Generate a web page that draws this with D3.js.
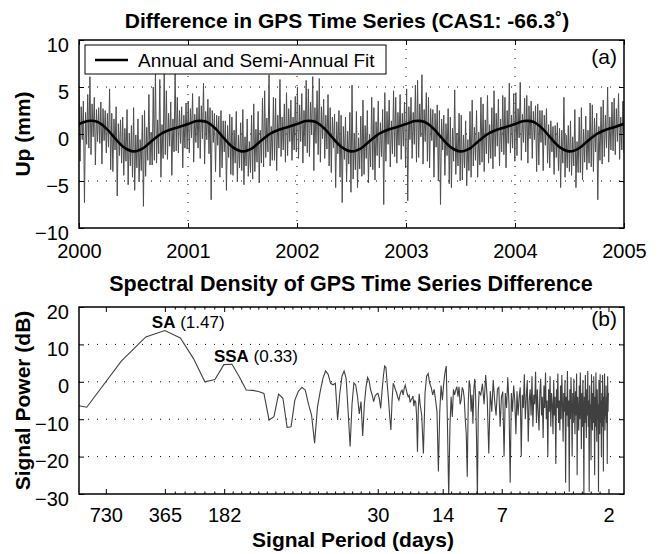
<!DOCTYPE html>
<html><head><meta charset="utf-8">
<script src="https://cdn.jsdelivr.net/npm/d3@7"></script>
<style>
html,body{margin:0;padding:0;background:#fff;}
svg text{font-family:"Liberation Sans",Arial,Helvetica,sans-serif;fill:#000;}
</style></head><body>
<svg id="chart" width="657" height="554"></svg>
<script>
// ---------------- DATA ----------------
const titleA = "Difference in GPS Time Series (CAS1: -66.3\u02DA)";
const titleB = "Spectral Density of GPS Time Series Difference";
const yearTicks = [2000, 2001, 2002, 2003, 2004, 2005];
const upTicks = [-10, -5, 0, 5, 10];
const upStartYear = 2000, upEndYear = 2005;
// residual Up series (mm), evenly spaced over 2000.0 - 2005.0
const upValues = [
 4.8,-2.9,2.9,-0.6,3.5,-7.3,2.3,-1.1,4.2,-1.5, 6.1,-2.2,3.2,-0.3,3.9,-3.3,2.6,-0.8,2.8,-1.0,
 3.4,-3.2,2.7,-0.7,2.5,-2.0,2.2,-1.4,4.8,-3.8, 2.2,-4.0,1.6,-1.7,2.9,-6.6,1.1,-2.3,1.5,-3.1,
 1.8,-4.4,0.6,-2.9,2.6,-5.4,0.1,-3.4,0.9,-4.6, 2.8,-6.0,-0.1,-3.6,1.6,-5.1,-0.6,-3.9,2.0,-7.7,
 2.5,-4.5,0.7,-2.8,4.2,-3.3,0.2,-3.3,5.0,-2.8, 6.6,-3.1,1.5,-2.1,5.8,-4.6,1.0,-2.6,6.4,-2.2,
 4.6,-2.7,2.2,-1.3,3.4,-4.4,1.6,-1.9,6.5,-1.8, 3.9,-2.0,2.5,-1.0,2.9,-3.6,2.0,-1.5,3.3,-1.6,
 3.5,-2.0,2.7,-0.4,4.3,-3.0,2.1,-0.9,2.8,-1.5, 4.0,-2.6,3.0,-0.5,5.4,-3.2,2.4,-0.6,3.7,-2.1,
 2.8,-7.0,2.5,-0.9,2.2,-4.0,2.0,-1.2,1.9,-4.6, 2.5,-3.6,1.4,-1.9,1.4,-6.0,0.9,-2.5,2.1,-4.3,
 1.8,-4.4,0.4,-3.1,2.4,-5.1,-0.1,-3.6,1.2,-3.9, 2.6,-5.4,-0.3,-3.4,1.6,-4.5,-0.8,-4.1,2.0,-4.8,
 3.2,-4.0,0.5,-3.0,2.4,-5.2,0.4,-3.1,3.8,-3.5, 4.6,-2.5,1.7,-1.9,6.3,-3.4,0.8,-2.8,3.9,-2.8,
 3.8,-3.9,2.0,-1.5,5.8,-2.4,1.8,-1.7,3.2,-3.0, 4.4,-2.3,2.7,-0.8,3.6,-2.8,1.8,-1.7,4.0,-1.9,
 5.0,-2.6,3.1,-0.8,4.3,-3.1,2.5,-1.3,5.7,-2.0, 4.8,-2.4,3.4,-0.1,6.1,-3.9,2.8,-1.0,4.6,-2.2,
 5.9,-3.0,2.9,-0.5,3.7,-2.6,2.0,-1.6,4.2,-3.4, 2.8,-4.1,1.8,-1.5,2.1,-5.7,1.3,-2.1,2.5,-4.6,
 2.0,-7.3,0.8,-2.7,1.8,-5.1,0.3,-3.2,2.3,-6.2, 5.2,-4.8,0.1,-3.8,2.4,-5.7,-0.4,-3.7,1.9,-4.5,
 3.6,-4.3,0.9,-2.6,2.5,-5.2,0.0,-3.5,3.9,-3.8, 2.8,-4.9,1.3,-2.3,3.5,-3.6,1.2,-2.4,2.6,-7.5,
 4.4,-2.9,2.4,-1.1,3.6,-3.5,1.4,-2.1,4.6,-2.4, 3.9,-3.1,2.3,-1.2,4.2,-2.7,2.2,-1.3,3.4,-3.6,
 4.8,-7.1,2.9,-0.6,3.9,-2.6,2.3,-1.1,5.2,-3.0, 5.7,-2.5,3.2,-0.3,6.3,-3.2,2.6,-0.8,4.4,-2.9,
 3.9,-3.6,2.7,-0.7,2.6,-4.6,2.2,-1.4,3.1,-5.0, 2.5,-7.5,1.6,-1.7,2.0,-4.4,1.1,-2.3,2.7,-5.3,
 1.8,-5.7,0.6,-2.9,4.7,-4.3,0.1,-3.4,2.2,-5.0, 2.0,-4.9,-0.1,-3.6,1.4,-5.5,-0.6,-3.9,2.4,-4.6,
 3.6,-3.4,0.7,-2.8,2.5,-4.6,0.2,-3.3,3.9,-3.0, 3.2,-4.0,1.5,-2.1,4.1,-3.1,1.0,-2.6,2.8,-3.7,
 4.6,-2.4,2.2,-1.3,3.7,-3.4,1.6,-1.9,4.1,-2.2, 3.9,-3.6,2.5,-1.0,5.4,-2.0,2.0,-1.5,4.3,-2.9,
 4.4,-2.3,2.7,-0.4,5.5,-2.8,2.1,-0.9,3.8,-1.9, 4.1,-3.1,3.0,-0.5,3.5,-2.6,2.4,-0.6,3.0,-4.0,
 3.2,-3.3,2.5,-0.9,2.5,-3.9,2.0,-1.2,2.7,-3.1, 1.0,-3.6,1.4,-1.9,0.8,-4.3,0.9,-2.5,1.2,-3.9,
 0.6,-5.7,0.4,-3.1,3.9,-4.6,-0.1,-3.6,0.9,-4.0, 1.4,-4.4,-0.3,-3.4,2.6,-5.7,-0.8,-4.1,1.8,-4.1,
 2.8,-4.9,0.5,-3.0,1.9,-3.8,0.4,-3.1,3.3,-3.5, 3.1,-4.0,1.7,-1.9,2.2,-7.0,0.8,-2.8,2.9,-3.2,
 3.6,-2.4,2.0,-1.5,5.0,-3.0,1.8,-1.7,3.4,-1.8, 3.8,-2.2,2.7,-0.8,4.3,-2.7,1.8,-1.7,3.5,-2.0
];
// annual + semi-annual fit, monthly from 2000.0 to 2005.0
const fitValues = [
 1.05,1.38,1.30,0.60,-0.50,-1.45,-1.85,-1.55,-0.75,0.00,0.45,0.75,
 1.06,1.38,1.30,0.60,-0.50,-1.45,-1.85,-1.55,-0.75,0.00,0.45,0.75,
 1.06,1.38,1.30,0.60,-0.50,-1.45,-1.85,-1.55,-0.75,0.00,0.45,0.75,
 1.06,1.38,1.30,0.60,-0.50,-1.45,-1.85,-1.55,-0.75,0.00,0.45,0.75,
 1.06,1.38,1.30,0.60,-0.50,-1.45,-1.85,-1.55,-0.75,0.00,0.45,0.75,
 1.08
];
const legendLabel = "Annual and Semi-Annual Fit";

const seriesDays = 1826;                      // bin k has period seriesDays/k
const periodTicks = [730, 365, 182, 30, 14, 7, 2];
const powerTicks = [-30, -20, -10, 0, 10, 20];
// spectral power (dB) per frequency bin
const specDbA = [ // bins 1..49
 -3.7,-6.8,5.5,12,13.7,11.7,6.2,0,0.6,4.6,
 4.7,1.3,-2.2,-2.3,-2.6,-3.1,-10.2,-9.3,-3.3,-4.4,
 -12.2,-12,-4.9,-2.5,-1.5,-2.2,-6,-9,-16.4,-6.7,
 -2.5,1.0,2.9,2.0,-0.4,-0.8,-0.4,-10.2,-3,1.5,
 2.9,0.9,-8,-17.3,-6,-0.3,-0.9,-4,-8.6
];
const specDbB = [ // bins 50..100
 -5.3,-14.5,-6,-1.5,1.2,0.3,-2.2,-3.5,-5.3,-3.8,
 -3.3,-3.1,-4.5,-7.1,-2.5,1.5,4.2,3.8,-0.5,-4.5,
 -9,-12.9,-5,-0.4,-1.2,-2.2,-3,-4.2,-4.9,-3.5,
 -2.6,-2.2,-3.5,-1.8,-0.9,-2,-3.2,-4,-3.6,-5.5,
 -4.8,-4.5,-3.8,-6.5,-5,-5.3,-9,-18.7,-7,-3.2,-5.8
];
const specDbC = [ // bins 102..200 step 2
 -9,-19.2,-3,1.5,2.2,-0.4,-1.5,-3.5,-2,-4.9,
 -8,-24,-8,-1,-4.9,-0.5,2.5,4.2,-12,-31,
 -12,-4,-9.4,-2,-3.5,-2.2,-1.3,-4,-1.3,-6,
 -4.9,-1.5,-2.2,-4.5,-10,-14,-25.4,-6,0.4,-1.2,
 -8,-3.5,-11.2,-2,0.8,-4,-15,-31,-8,-2.5
];
const specDbD = [ // bins 204..912 step 4
 -3.5,-0.5,-6,1.8,-4.5,-19.2,-2.5,-8,0.5,-5,
 -9,-2,-1.5,-12,-4,-2.6,-20,-3,-7,1.2,
 -6,-27,-3,-8,-1,-5,-14,-2.5,-9,-4,
 -1.5,-20,-3.5,-7,2,-10,-4,0.5,-16,-5,
 -2,-9,1.5,-12,-3.5,-6,2.7,-11,-2,-8,
 -13,-3,0.8,-9,-4,-15,-1,-7,2.5,-10,
 -5,-20,-2,-8,1.5,-12,-3,-6,-14,0.5,
 -9,-4,-22,-2,-7,2.2,-11,-5,-13,-1,
 -10,1.8,-6,-16,-3,-8,0.5,-27,-4,-9,
 2.9,-12,-5,-29.4,-2,-10,1.2,-7,-20,-3,
 -11,0.8,-6,-14,-2.5,-9,2.2,-25,-4,-8,
 -13,-1,-10,2.5,-6,-18,-3,-12,0.5,-8,
 -30,-4,-11,1.8,-7,-15,-2,-9,2.9,-12,
 -5,-29.4,-1,-10,-6,-21,2,-8,-13,-3,
 -11,1.5,-7,-25,-4,-12,2.5,-9,-16,-2,
 -10,-6,-29.4,0.5,-8,-14,2,-11,-5,-20,
 -3,-12,1.8,-7,-24,-4,-10,2.2,-13,-6,
 -9,-1,-11,-4,-22,1.5,-8,-3
];
const specSegments = [
  {values: specDbA, firstBin: 1,   binStep: 1},
  {values: specDbB, firstBin: 50,  binStep: 1},
  {values: specDbC, firstBin: 102, binStep: 2},
  {values: specDbD, firstBin: 204, binStep: 4}
];
const annotations = [
  {bold: "SA", text: " (1.47)"},
  {bold: "SSA", text: " (0.33)"}
];

// ---------------- LAYOUT ----------------
const svg = d3.select("#chart");
const A = {l: 79, r: 624, t: 40, b: 228};
const B = {l: 79, r: 624, t: 307, b: 494};
const tickFont = 20;

const xA = d3.scaleLinear().domain([upStartYear, upEndYear]).range([A.l, A.r]);
const yA = d3.scaleLinear().domain([-10, 10]).range([A.b, A.t]);
const xB = d3.scaleLog().domain([1000, 1.667]).range([B.l, B.r]);
const yB = d3.scaleLinear().domain([-30, 20]).range([B.b, B.t]);

const defs = svg.append("defs");
defs.append("clipPath").attr("id", "clipA").append("rect")
  .attr("x", A.l).attr("y", A.t).attr("width", A.r - A.l).attr("height", A.b - A.t);
defs.append("clipPath").attr("id", "clipB").append("rect")
  .attr("x", B.l).attr("y", B.t).attr("width", B.r - B.l).attr("height", B.b - B.t);

// titles
svg.append("text").attr("x", 347).attr("y", 28).attr("text-anchor", "middle")
  .attr("font-size", 21).attr("font-weight", "bold").text(titleA);
svg.append("text").attr("x", 351).attr("y", 291).attr("text-anchor", "middle")
  .attr("font-size", 21.5).attr("font-weight", "bold").text(titleB);

// ---------- panel A ----------
const gridStyle = sel => sel.attr("stroke", "#000").attr("stroke-width", 1)
  .attr("stroke-dasharray", "1,8").attr("fill", "none");
const gA = svg.append("g");
gA.selectAll("line.vg").data(yearTicks.slice(1, -1)).join("line")
  .attr("x1", d => xA(d)).attr("x2", d => xA(d)).attr("y1", A.t).attr("y2", A.b).call(gridStyle);
gA.selectAll("line.hg").data(upTicks.slice(1, -1)).join("line")
  .attr("x1", A.l).attr("x2", A.r).attr("y1", d => yA(d)).attr("y2", d => yA(d)).call(gridStyle);

const upData = upValues.map((v, i) => ({t: upStartYear + (upEndYear - upStartYear) * i / (upValues.length - 1), v}));
gA.append("path").datum(upData).attr("clip-path", "url(#clipA)")
  .attr("fill", "none").attr("stroke", "#4d4d4d").attr("stroke-width", 1)
  .attr("d", d3.line().x(d => xA(d.t)).y(d => yA(d.v)));

const fitData = fitValues.map((v, i) => ({t: upStartYear + i / 12, v}));
gA.append("path").datum(fitData).attr("clip-path", "url(#clipA)")
  .attr("fill", "none").attr("stroke", "#000").attr("stroke-width", 2.6)
  .attr("d", d3.line().curve(d3.curveCatmullRom.alpha(0.5)).x(d => xA(d.t)).y(d => yA(d.v)));

// legend
const lg = svg.append("g");
lg.append("rect").attr("x", 85).attr("y", 45).attr("width", 301).attr("height", 29)
  .attr("fill", "#fff").attr("stroke", "#000").attr("stroke-width", 1);
lg.append("line").attr("x1", 95).attr("x2", 128).attr("y1", 60).attr("y2", 60)
  .attr("stroke", "#000").attr("stroke-width", 2.6);
lg.append("text").attr("x", 138).attr("y", 66.5).attr("font-size", 19).text(legendLabel);
svg.append("text").attr("x", 617).attr("y", 64).attr("text-anchor", "end")
  .attr("font-size", 21).text("(a)");

// axes A
function styleAxis(g) {
  g.select(".domain").remove();
  g.selectAll(".tick line").attr("stroke", "#000").attr("stroke-width", 1);
  g.selectAll(".tick text").attr("font-size", tickFont).attr("font-family", "Liberation Sans, Arial, sans-serif").attr("fill", "#000");
}
function shiftY(g) { g.selectAll(".tick text").attr("dy", "0.55em"); }
svg.append("g").attr("transform", `translate(0,${A.b})`)
  .call(d3.axisBottom(xA).tickValues(yearTicks).tickFormat(d3.format("d")).tickSizeInner(-5).tickSizeOuter(0).tickPadding(16))
  .call(styleAxis);
svg.append("g").attr("transform", `translate(0,${A.t})`)
  .call(d3.axisTop(xA).tickValues(yearTicks).tickFormat("").tickSizeInner(-5).tickSizeOuter(0))
  .call(styleAxis);
svg.append("g").attr("transform", `translate(${A.l},0)`)
  .call(d3.axisLeft(yA).tickValues(upTicks).tickFormat(d3.format("d")).tickSizeInner(-5).tickSizeOuter(0).tickPadding(10))
  .call(styleAxis).call(shiftY);
svg.append("g").attr("transform", `translate(${A.r},0)`)
  .call(d3.axisRight(yA).tickValues(upTicks).tickFormat("").tickSizeInner(-5).tickSizeOuter(0))
  .call(styleAxis);
svg.append("rect").attr("x", A.l).attr("y", A.t).attr("width", A.r - A.l).attr("height", A.b - A.t)
  .attr("fill", "none").attr("stroke", "#000").attr("stroke-width", 1.5);
svg.append("text").attr("transform", `translate(30,${(A.t + A.b) / 2}) rotate(-90)`)
  .attr("text-anchor", "middle").attr("font-size", 21).attr("font-weight", "bold").text("Up (mm)");

// ---------- panel B ----------
const gB = svg.append("g");
gB.selectAll("line.hg").data(powerTicks.slice(1, -1)).join("line")
  .attr("x1", B.l).attr("x2", B.r).attr("y1", d => yB(d)).attr("y2", d => yB(d)).call(gridStyle);

const specData = [];
specSegments.forEach(s => s.values.forEach((v, i) => {
  const k = s.firstBin + i * s.binStep;
  specData.push({p: seriesDays / k, v});
}));
gB.append("path").datum(specData).attr("clip-path", "url(#clipB)")
  .attr("fill", "none").attr("stroke", "#404040").attr("stroke-width", 1.1)
  .attr("d", d3.line().x(d => xB(d.p)).y(d => yB(d.v)));

// annotations at the SA and SSA peaks
const saPeak = specData[4], ssaPeak = specData[9];
const annPos = [
  {x: xB(saPeak.p) - 13, y: yB(saPeak.v) - 2.5},
  {x: xB(ssaPeak.p) - 10, y: yB(ssaPeak.v) - 3}
];
annotations.forEach((a, i) => {
  const t = svg.append("text").attr("x", annPos[i].x).attr("y", annPos[i].y).attr("font-size", 17);
  t.append("tspan").attr("font-weight", "bold").text(a.bold);
  t.append("tspan").text(a.text);
});
svg.append("text").attr("x", 617).attr("y", 326).attr("text-anchor", "end")
  .attr("font-size", 21).text("(b)");

// minor ticks: geometric subdivisions between labelled periods
const minorSplits = [[730, 365, 1], [365, 182, 6], [182, 30, 18], [30, 14, 8], [14, 7, 7], [7, 2, 12]];
const minorTicks = [];
minorSplits.forEach(([a, b, n]) => { for (let j = 1; j < n; j++) minorTicks.push(a * Math.pow(b / a, j / n)); });

svg.append("g").attr("transform", `translate(0,${B.b})`)
  .call(d3.axisBottom(xB).tickValues(periodTicks).tickFormat(d3.format("d")).tickSizeInner(-5).tickSizeOuter(0).tickPadding(14))
  .call(styleAxis);
svg.append("g").attr("transform", `translate(0,${B.b})`)
  .call(d3.axisBottom(xB).tickValues(minorTicks).tickFormat("").tickSizeInner(-2.5).tickSizeOuter(0))
  .call(styleAxis);
svg.append("g").attr("transform", `translate(0,${B.t})`)
  .call(d3.axisTop(xB).tickValues(periodTicks).tickFormat("").tickSizeInner(-5).tickSizeOuter(0))
  .call(styleAxis);
svg.append("g").attr("transform", `translate(0,${B.t})`)
  .call(d3.axisTop(xB).tickValues(minorTicks).tickFormat("").tickSizeInner(-2.5).tickSizeOuter(0))
  .call(styleAxis);
svg.append("g").attr("transform", `translate(${B.l},0)`)
  .call(d3.axisLeft(yB).tickValues(powerTicks).tickFormat(d3.format("d")).tickSizeInner(-5).tickSizeOuter(0).tickPadding(10))
  .call(styleAxis).call(shiftY);
svg.append("g").attr("transform", `translate(${B.r},0)`)
  .call(d3.axisRight(yB).tickValues(powerTicks).tickFormat("").tickSizeInner(-5).tickSizeOuter(0))
  .call(styleAxis);
svg.append("rect").attr("x", B.l).attr("y", B.t).attr("width", B.r - B.l).attr("height", B.b - B.t)
  .attr("fill", "none").attr("stroke", "#000").attr("stroke-width", 1.5);
svg.append("text").attr("transform", `translate(30,${(B.t + B.b) / 2}) rotate(-90)`)
  .attr("text-anchor", "middle").attr("font-size", 21).attr("font-weight", "bold").text("Signal Power (dB)");
svg.append("text").attr("x", 353).attr("y", 547).attr("text-anchor", "middle")
  .attr("font-size", 21).attr("font-weight", "bold").text("Signal Period (days)");
</script>
</body></html>
